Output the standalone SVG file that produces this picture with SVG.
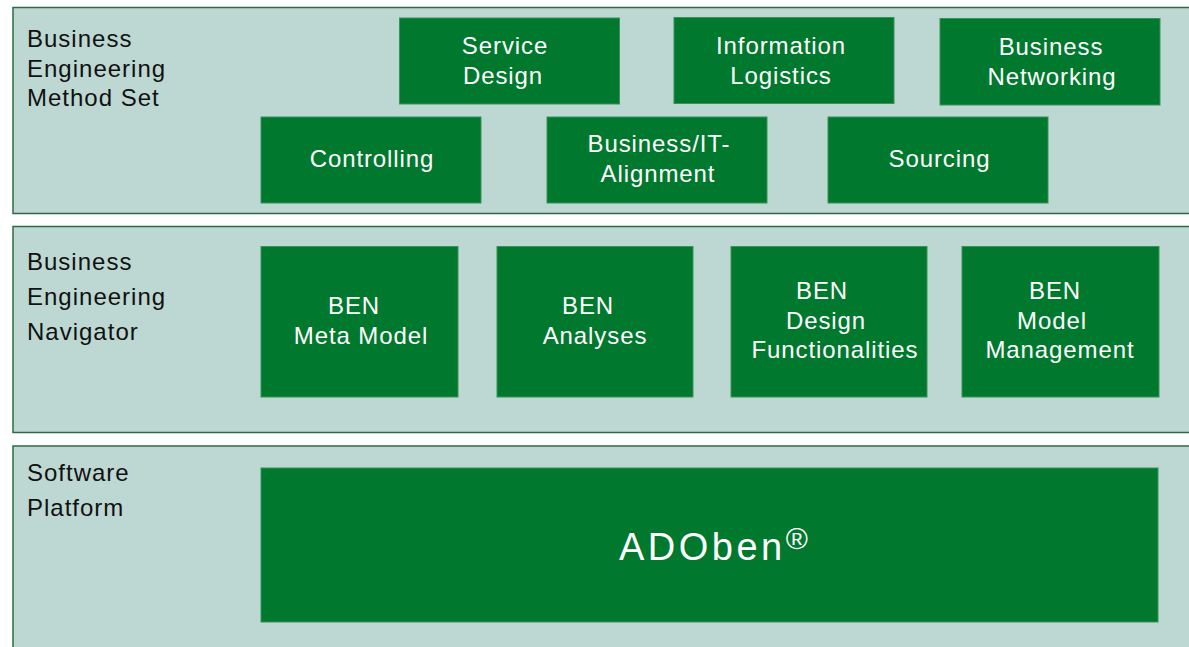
<svg xmlns="http://www.w3.org/2000/svg" width="1189" height="647" viewBox="0 0 1189 647">
<style>
.panel{fill:#BDD8D2;stroke:#2E6B45;stroke-width:1.5}
.box{fill:#00782D;stroke:#3A9258;stroke-width:1}
.lbl{font-family:"Liberation Sans",Arial,sans-serif;font-size:24px;fill:#111;letter-spacing:1px}
.bt{font-family:"Liberation Sans",Arial,sans-serif;font-size:24px;fill:#fff;letter-spacing:0.9px;text-anchor:middle}
.big{font-family:"Liberation Sans",Arial,sans-serif;font-size:38px;fill:#fff;letter-spacing:3.5px}
</style>
<rect width="1189" height="647" fill="#fff"/>
<g id="layer-method-set">
<rect class="panel" x="13" y="7.5" width="1190" height="206"/>
<text class="lbl" x="27" y="47">Business</text>
<text class="lbl" x="27" y="77">Engineering</text>
<text class="lbl" x="27" y="106">Method Set</text>
</g>
<g id="layer-navigator">
<rect class="panel" x="13" y="226.5" width="1190" height="206"/>
<text class="lbl" x="27" y="270">Business</text>
<text class="lbl" x="27" y="305">Engineering</text>
<text class="lbl" x="27" y="340">Navigator</text>
</g>
<g id="layer-platform">
<rect class="panel" x="13" y="446" width="1190" height="220"/>
<text class="lbl" x="27" y="481">Software</text>
<text class="lbl" x="27" y="516">Platform</text>
</g>
<g id="node-service-design">
<rect class="box" x="399.5" y="18" width="220" height="86"/>
<text class="bt" x="505" y="54">Service</text>
<text class="bt" x="503" y="84">Design</text>
</g>
<g id="node-information-logistics">
<rect class="box" x="674" y="17.5" width="220" height="86"/>
<text class="bt" x="781" y="53.5">Information</text>
<text class="bt" x="781" y="83.5">Logistics</text>
</g>
<g id="node-business-networking">
<rect class="box" x="940" y="18.5" width="220" height="86.5"/>
<text class="bt" x="1051" y="54.5">Business</text>
<text class="bt" x="1052" y="84.5">Networking</text>
</g>
<g id="node-controlling">
<rect class="box" x="261" y="117" width="220" height="86"/>
<text class="bt" x="372" y="167">Controlling</text>
</g>
<g id="node-business-it-alignment">
<rect class="box" x="547" y="117" width="220" height="86"/>
<text class="bt" x="659" y="151.5">Business/IT-</text>
<text class="bt" x="658" y="182">Alignment</text>
</g>
<g id="node-sourcing">
<rect class="box" x="828" y="117" width="220" height="86"/>
<text class="bt" x="939.5" y="167">Sourcing</text>
</g>
<g id="node-ben-meta-model">
<rect class="box" x="261" y="246.5" width="197" height="150.5"/>
<text class="bt" x="354" y="314">BEN</text>
<text class="bt" x="361" y="344">Meta Model</text>
</g>
<g id="node-ben-analyses">
<rect class="box" x="497" y="246.5" width="196" height="150.5"/>
<text class="bt" x="588" y="314">BEN</text>
<text class="bt" x="595" y="344">Analyses</text>
</g>
<g id="node-ben-design-functionalities">
<rect class="box" x="731" y="246.5" width="196" height="150.5"/>
<text class="bt" x="822" y="299">BEN</text>
<text class="bt" x="826" y="329">Design</text>
<text class="bt" x="835" y="358">Functionalities</text>
</g>
<g id="node-ben-model-management">
<rect class="box" x="962" y="246.5" width="197" height="150.5"/>
<text class="bt" x="1055" y="299">BEN</text>
<text class="bt" x="1052" y="329">Model</text>
<text class="bt" x="1060" y="358">Management</text>
</g>
<g id="node-adoben">
<rect class="box" x="261" y="468" width="897" height="154"/>
<text class="big" x="619" y="560">ADOben<tspan font-size="30" dy="-11" letter-spacing="0">®</tspan></text>
</g>
<g id="connectors"></g>
</svg>
